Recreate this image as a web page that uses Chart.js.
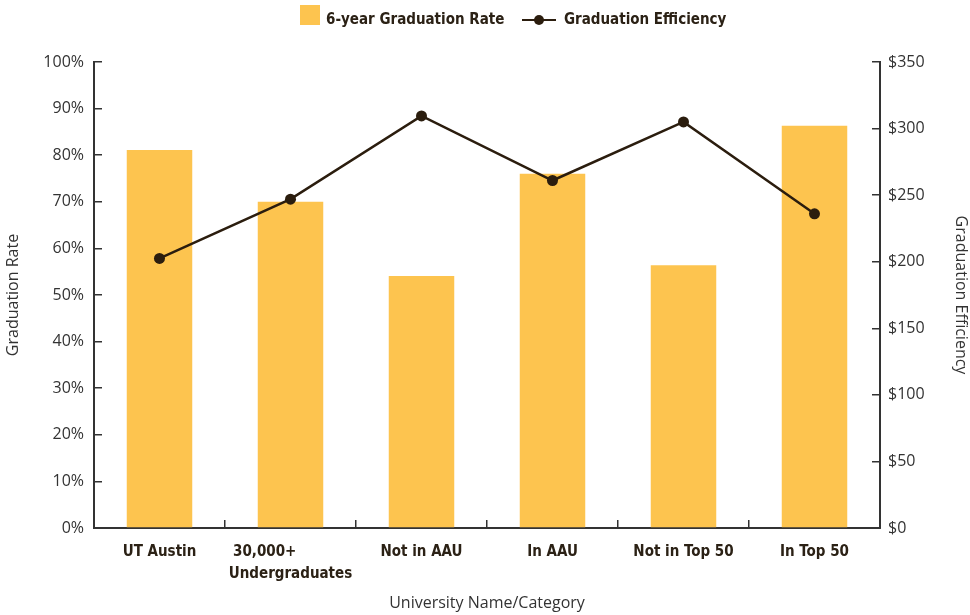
<!DOCTYPE html>
<html>
<head>
<meta charset="utf-8">
<title>Graduation Rate and Efficiency</title>
<script src="https://cdn.jsdelivr.net/npm/chart.js@4.4.1/dist/chart.umd.min.js"></script>
<style>
  body { margin: 0; background: #fff; }
  #wrap { position: relative; width: 970px; height: 615px; }
  #legend { position: absolute; top: 0; left: 0; width: 970px; height: 30px;
    font: bold 15px "Liberation Sans Narrow", "DejaVu Sans Condensed", sans-serif; color: #2b2115; }
  .item { position: absolute; top: 5px; height: 20px; display: flex; align-items: center; white-space: nowrap; }
  .item .txt { position: relative; top: 4px; }
  .swatch { width: 20px; height: 20px; background: #fdc44f; margin-right: 6px; }
  .lineicon { position: relative; width: 34px; height: 20px; margin-right: 8px; top: 5px; }
  .lineicon:before { content: ''; position: absolute; left: 0; right: 0; top: 9px; height: 2px; background: #2b1d0e; }
  .lineicon:after { content: ''; position: absolute; left: 12px; top: 5px; width: 10px; height: 10px; border-radius: 50%; background: #2b1d0e; }
</style>
</head>
<body>
<div id="wrap">
  <div id="legend">
    <div class="item" style="left:300px"><span class="swatch"></span><span class="txt">6-year Graduation Rate</span></div>
    <div class="item" style="left:522px"><span class="lineicon"></span><span class="txt">Graduation Efficiency</span></div>
  </div>
  <canvas id="myChart"></canvas>
</div>
<script>
var categories = ['UT Austin', ['30,000+           ', 'Undergraduates'], 'Not in AAU', 'In AAU', 'Not in Top 50', 'In Top 50'];
var graduationRate = [81.1, 70, 54.1, 76, 56.4, 86.3];
var graduationEfficiency = [202.5, 247, 309.5, 261, 305, 236];
var rateMax = 100, rateStep = 10;
var efficiencyMax = 350, efficiencyStep = 50;

var boldFont = { family: '"Liberation Sans Narrow", "DejaVu Sans Condensed", sans-serif', size: 15, weight: 'bold', lineHeight: 1.45 };
var lightFont = { family: '"Open Sans", "Noto Sans", sans-serif', size: 16 };
var axisColor = '#333333';

var ctx = document.getElementById('myChart').getContext('2d');
var myChart = new Chart(ctx, {
    type: 'bar',
    data: {
        labels: categories,
        datasets: [{
            type: 'line',
            label: 'Graduation Efficiency',
            data: graduationEfficiency,
            yAxisID: 'y1',
            borderColor: '#2b1d0e',
            borderWidth: 2.5,
            pointRadius: 5.5,
            pointBackgroundColor: '#2b1d0e',
            pointBorderWidth: 0,
            tension: 0,
            order: 0
        }, {
            label: '6-year Graduation Rate',
            data: graduationRate,
            yAxisID: 'y',
            backgroundColor: '#fdc44f',
            categoryPercentage: 1,
            barPercentage: 0.5,
            order: 1
        }]
    },
    options: {
        responsive: true,
        maintainAspectRatio: false,
        animation: false,
        layout: { padding: { top: 62 } },
        plugins: {
            legend: { display: false },
            tooltip: { enabled: false }
        },
        scales: {
            x: {
                grid: { offset: true, drawOnChartArea: false, tickLength: -8, color: axisColor, lineWidth: 1.5 },
                border: { color: axisColor, width: 2 },
                ticks: { font: boldFont, color: '#2b2115', padding: 21, maxRotation: 0, autoSkip: false },
                title: { display: true, text: 'University Name/Category', font: lightFont, color: axisColor, padding: { top: 0, bottom: 2 } },
                afterFit: function(scale) { scale.height = 87; }
            },
            y: {
                position: 'left',
                min: 0,
                max: rateMax,
                grid: { drawOnChartArea: false, tickLength: -8, color: axisColor, lineWidth: 1.5 },
                border: { color: axisColor, width: 2 },
                ticks: { stepSize: rateStep, font: lightFont, color: axisColor, padding: 18,
                    callback: function(v) { return v + '%'; } },
                title: { display: true, text: 'Graduation Rate', font: lightFont, color: axisColor, padding: { top: 4 } },
                afterFit: function(scale) { scale.width = 94; }
            },
            y1: {
                position: 'right',
                min: 0,
                max: efficiencyMax,
                grid: { drawOnChartArea: false, tickLength: -8, color: axisColor, lineWidth: 1.5 },
                border: { color: axisColor, width: 2 },
                ticks: { stepSize: efficiencyStep, font: lightFont, color: axisColor, padding: 16,
                    callback: function(v) { return '$' + v; } },
                title: { display: true, text: 'Graduation Efficiency', font: lightFont, color: axisColor, padding: { top: 0 } },
                afterFit: function(scale) { scale.width = 90; }
            }
        }
    }
});
</script>
</body>
</html>
